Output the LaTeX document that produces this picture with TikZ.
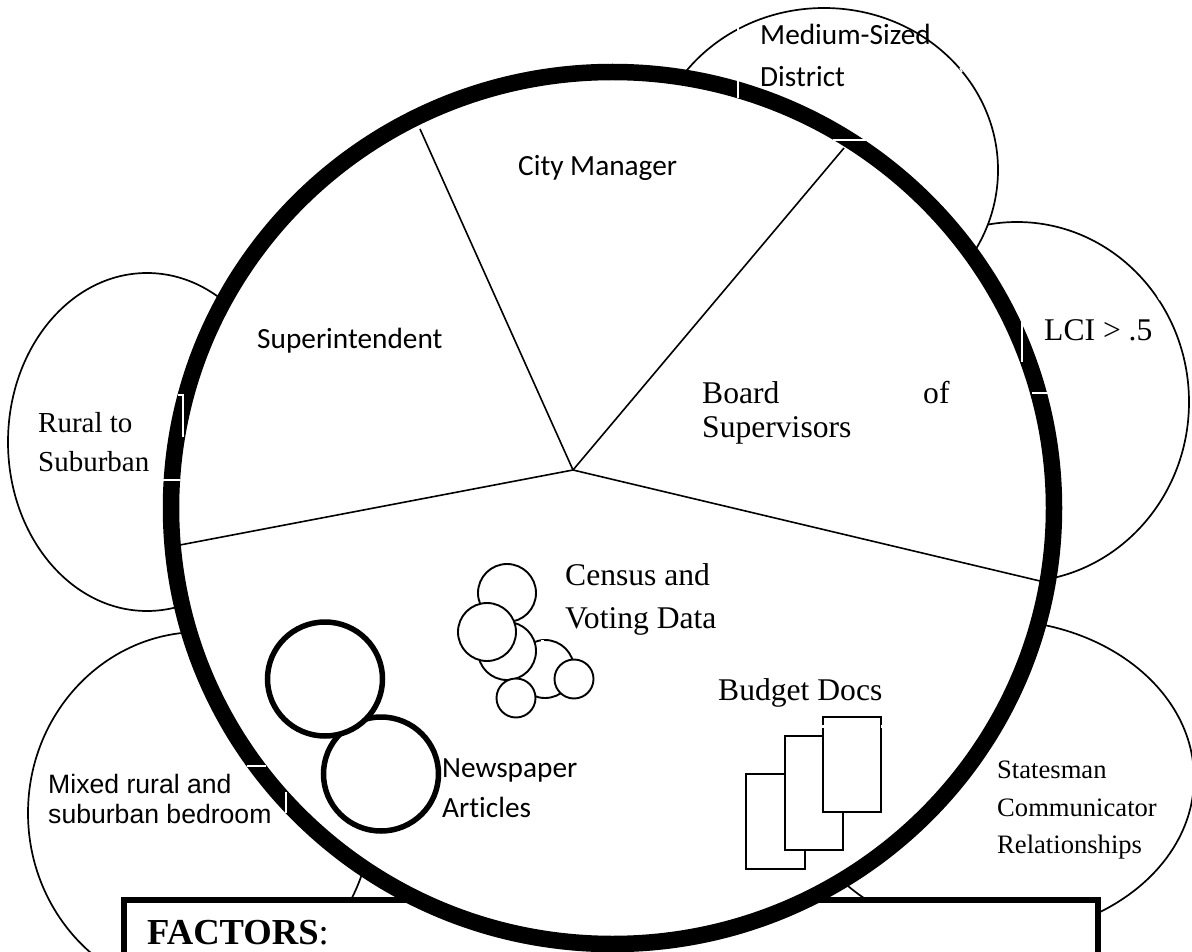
\documentclass[tikz,border=0pt]{standalone}
\usepackage{fontspec}
\setmainfont{Liberation Serif}
\newfontfamily\carlitofont[Ligatures=NoCommon]{Carlito}
\newfontfamily\arialfont{Liberation Sans}
\usetikzlibrary{shapes.geometric}

\begin{document}
\begin{tikzpicture}[x=1pt, y=-1pt]
\tikzset{lobe/.style={draw, ellipse, fill=white, line width=1.7pt, inner sep=0pt, outer sep=0pt}}
\tikzset{petit/.style={draw, circle, fill=white, line width=1.9pt, inner sep=0pt, outer sep=0pt, minimum size=#1}}
\tikzset{epais/.style={draw, ellipse, fill=white, line width=5.5pt, inner sep=0pt, outer sep=0pt, minimum width=115pt, minimum height=114pt}}
\tikzset{feuille/.style={draw, rectangle, fill=white, line width=1.9pt, inner sep=0pt, outer sep=0pt}}
\tikzset{texte/.style={anchor=base west, inner sep=0pt}}
\tikzset{trou/.style={draw=white, line width=1.5pt}}
\useasboundingbox (0, 0) rectangle (1192, 952);
\clip (0, 0) rectangle (1192, 952);
% lobes behind the ring
\node[lobe, minimum width=278pt, minimum height=338pt] (rural) at (147, 442) {};
\node[lobe, minimum width=344pt, minimum height=360pt] (lci) at (1017, 402) {};
\node[lobe, minimum width=348pt, minimum height=324pt] (medium) at (824, 170) {};
\node[lobe, minimum width=400pt, minimum height=316pt] (statesman) at (994, 778) {};
\node[lobe, minimum width=344pt, minimum height=362pt] (mixed) at (200, 813) {};
\node[draw, rectangle, fill=white, line width=6pt, inner sep=0pt, outer sep=0pt, minimum width=974pt, minimum height=100pt] (factbox) at (611, 950) {};
% ring
\node[draw, ellipse, fill=white, line width=16.5pt, inner sep=0pt, outer sep=0pt, minimum width=883pt, minimum height=872pt] (ring) at (612.5, 508) {};
% spokes
\coordinate (hub) at (573, 470);
\coordinate (rimA) at (420, 129);
\coordinate (rimB) at (844, 148);
\coordinate (rimC) at (1040, 581);
\coordinate (rimD) at (180, 545);
\draw[line width=1.6pt] (hub) -- (rimA);
\draw[line width=1.6pt] (hub) -- (rimB);
\draw[line width=1.6pt] (hub) -- (rimC);
\draw[line width=1.6pt] (hub) -- (rimD);
% census circles
\node[petit=58pt] (C1) at (507, 593) {};
\node[petit=58pt] (C4) at (545, 669) {};
\node[petit=58pt] (C3) at (507, 651) {};
\node[petit=58pt] (C2) at (487, 632) {};
\node[petit=39pt] (C5) at (574, 679) {};
\node[petit=39pt] (C6) at (516, 698) {};
% newspaper circles
\node[epais] (N2) at (381, 774) {};
\node[epais] (N1) at (325, 679) {};
% budget sheets
\node[feuille, minimum width=59pt, minimum height=95pt] (D1) at (775.5, 821.5) {};
\node[feuille, minimum width=58pt, minimum height=114pt] (D2) at (814, 793) {};
\node[feuille, minimum width=58pt, minimum height=95pt] (D3) at (852, 764.5) {};
% small breaks
\draw[trou] (738, 80) -- (738, 98);
\draw[trou] (738, 26) -- (738, 31);
\draw[trou] (833, 140) -- (866, 140);
\draw[trou] (960, 68) -- (962, 72);
\draw[trou] (1022, 322) -- (1022, 362);
\draw[trou] (1032, 393) -- (1048, 393);
\draw[trou] (1158, 296) -- (1160, 300);
\draw[trou] (163, 480) -- (180, 480);
\draw[trou] (178, 395) -- (183, 395) -- (183, 437);
\draw[trou] (247, 766) -- (266, 766);
\draw[trou] (286, 792) -- (286, 813);
\draw[trou] (505, 310) -- (507, 318);
\draw[trou] (541, 641) -- (544, 641);
\draw[trou] (823, 725) -- (823, 728);
\draw[trou] (881.5, 725) -- (881.5, 728);
% labels
\node[texte, font=\carlitofont\fontsize{29.3}{30}\selectfont] (t1) at (760, 45) {Medium-Sized};
\node[texte, font=\carlitofont\fontsize{29.3}{30}\selectfont] (t2) at (760, 87) {District};
\node[texte, font=\carlitofont\fontsize{29.3}{30}\selectfont] (t3) at (518, 176) {City Manager};
\node[texte, font=\carlitofont\fontsize{29.3}{30}\selectfont] (t4) at (257, 348) {Superintendent};
\node[texte, font=\fontsize{31.6}{32}\selectfont] (t5) at (702, 403) {Board};
\node[texte, font=\fontsize{31.6}{32}\selectfont] (t6) at (923, 403) {of};
\node[texte, font=\fontsize{31.6}{32}\selectfont] (t7) at (702, 437) {Supervisors};
\node[texte, font=\fontsize{31.6}{32}\selectfont] (t8) at (1044, 340) {LCI > .5};
\node[texte, font=\fontsize{29}{30}\selectfont] (t9) at (38, 432) {Rural to};
\node[texte, font=\fontsize{29}{30}\selectfont] (t10) at (38, 471) {Suburban};
\node[texte, font=\fontsize{31.6}{32}\selectfont] (t11) at (565, 585) {Census and};
\node[texte, font=\fontsize{31.6}{32}\selectfont] (t12) at (565, 628) {Voting Data};
\node[texte, font=\fontsize{31.6}{32}\selectfont] (t13) at (718, 700) {Budget Docs};
\node[texte, font=\carlitofont\fontsize{29.3}{30}\selectfont] (t14) at (442, 777) {Newspaper};
\node[texte, font=\carlitofont\fontsize{29.3}{30}\selectfont] (t15) at (442, 817) {Articles};
\node[texte, font=\arialfont\fontsize{26.6}{27}\selectfont] (t16) at (48, 793) {Mixed rural and};
\node[texte, font=\arialfont\fontsize{26.6}{27}\selectfont] (t17) at (48, 823) {suburban bedroom};
\node[texte, font=\fontsize{26.6}{27}\selectfont] (t18) at (997, 778) {Statesman};
\node[texte, font=\fontsize{26.6}{27}\selectfont] (t19) at (997, 816) {Communicator};
\node[texte, font=\fontsize{26.6}{27}\selectfont] (t20) at (997, 853) {Relationships};
\node[texte, font=\fontsize{36.6}{37}\selectfont] (t21) at (147, 944) {\textbf{FACTORS}:};
\end{tikzpicture}
\end{document}
